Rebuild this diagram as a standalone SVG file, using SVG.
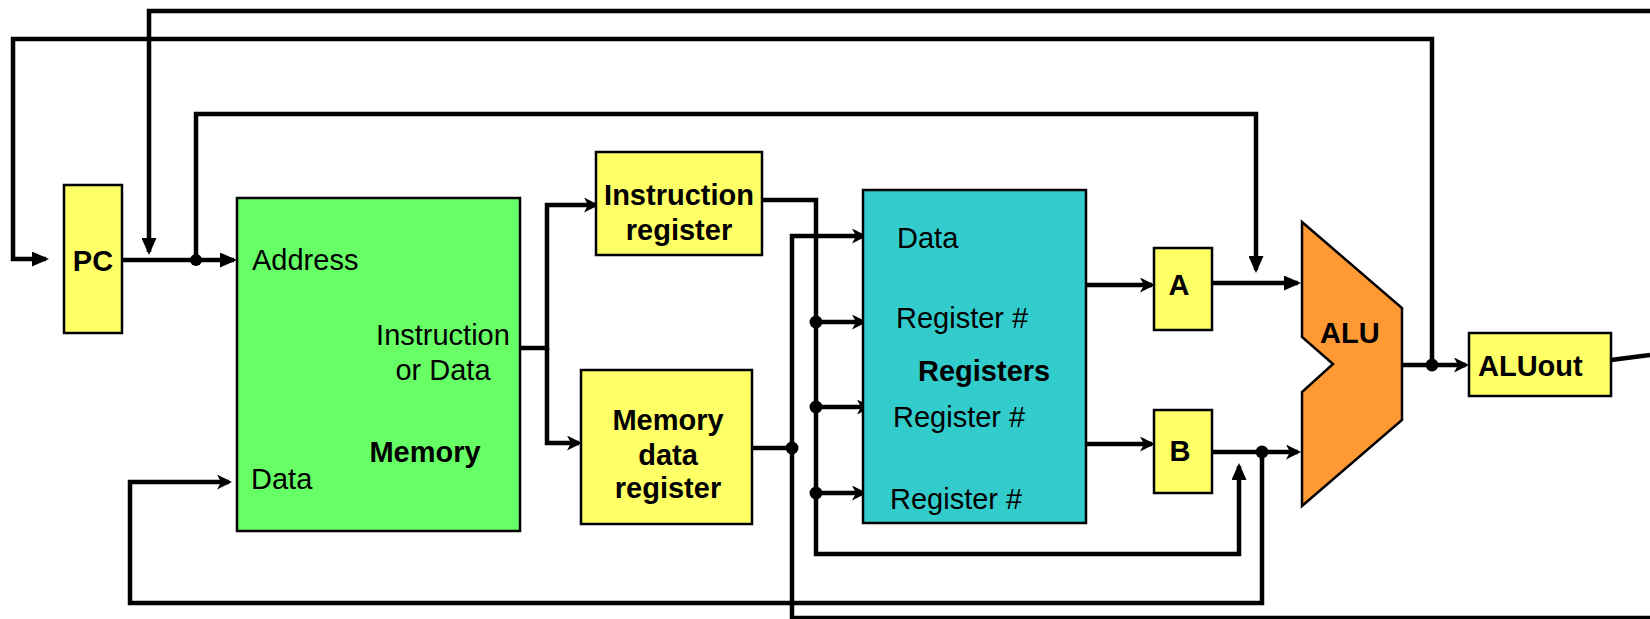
<svg xmlns="http://www.w3.org/2000/svg" width="1650" height="619" viewBox="0 0 1650 619">
  <style>
    .box { stroke: #000; stroke-width: 2.5; }
    .yellow { fill: #FFFF66; }
    .green { fill: #66FF66; }
    .teal { fill: #33CCCC; }
    .orange { fill: #FF9933; }
    .t { font-family: "Liberation Sans", Arial, sans-serif; font-size: 29px; fill: #000; }
    .b { font-family: "Liberation Sans", Arial, sans-serif; font-size: 29px; font-weight: bold; fill: #000; }
    .m { text-anchor: middle; }
    .w { fill: none; stroke: #000; stroke-width: 4.5; stroke-linejoin: miter; }
    .tri { marker-end: url(#tri); }
    .st { marker-end: url(#stealth); }
    .dot { fill: #000; }
  </style>
  <defs>
    <marker id="tri" markerUnits="userSpaceOnUse" markerWidth="17" markerHeight="15" viewBox="0 0 17 15" refX="14" refY="7.5" orient="auto">
      <path d="M0,0 L17,7.5 L0,15 z" fill="#000"/>
    </marker>
    <marker id="stealth" markerUnits="userSpaceOnUse" markerWidth="15" markerHeight="15" viewBox="0 0 15 15" refX="12" refY="7.5" orient="auto">
      <path d="M0,0 L15,7.5 L0,15 L4,7.5 z" fill="#000"/>
    </marker>
  </defs>

  <g id="connectors">
    <!-- top line into PC->Address bus -->
    <path class="w tri" d="M1650,11 H149 V252"/>
    <!-- ALUout junction back to PC -->
    <path class="w tri" d="M1432,365 V39 H13 V259 H46"/>
    <!-- PC to ALU A input -->
    <path class="w tri" d="M196,260 V114 H1256 V270"/>
    <!-- PC to Address -->
    <path class="w tri" d="M122,260 H234"/>
    <!-- B out to ALU -->
    <path class="w st" d="M1212,452 H1298"/>
    <!-- B out loop to Memory Data -->
    <path class="w st" d="M1262,452 V603 H130 V482 H229"/>
    <!-- Memory out to IR and MDR -->
    <path class="w st" d="M514,348 H547 V205 H596"/>
    <path class="w st" d="M547,348 V443 H579"/>
    <!-- IR out -->
    <path class="w tri" d="M762,200 H816 V554 H1239 V466"/>
    <path class="w st" d="M816,322 H864"/>
    <path class="w st" d="M816,407 H869"/>
    <path class="w st" d="M816,493 H864"/>
    <!-- MDR out -->
    <path class="w" d="M752,448 H792"/>
    <path class="w st" d="M1650,618 H792 V236 H864"/>
    <!-- Registers to A and B -->
    <path class="w st" d="M1086,285 H1152"/>
    <path class="w st" d="M1086,444 H1152"/>
    <!-- A to ALU -->
    <path class="w tri" d="M1212,283 H1298"/>
    <!-- ALU to ALUout -->
    <path class="w st" d="M1400,365 H1466"/>
    <!-- ALUout out -->
    <path class="w" d="M1611,360 L1650,355"/>
    <!-- junction dots -->
    <circle class="dot" cx="196" cy="260" r="6"/>
    <circle class="dot" cx="816" cy="322" r="6.5"/>
    <circle class="dot" cx="816" cy="407" r="6.5"/>
    <circle class="dot" cx="816" cy="493" r="6.5"/>
    <circle class="dot" cx="792" cy="448" r="6.5"/>
    <circle class="dot" cx="1262" cy="452" r="6.5"/>
    <circle class="dot" cx="1432" cy="365" r="6.5"/>
  </g>

  <g id="pc">
    <rect class="box yellow" x="64" y="185" width="58" height="148"/>
    <text class="b m" x="93" y="271">PC</text>
  </g>

  <g id="memory">
    <rect class="box green" x="237" y="198" width="283" height="333"/>
    <text class="t" x="252" y="270">Address</text>
    <text class="t m" x="443" y="345">Instruction</text>
    <text class="t m" x="443" y="380">or Data</text>
    <text class="b m" x="425" y="462">Memory</text>
    <text class="t" x="251" y="489">Data</text>
  </g>

  <g id="instruction-register">
    <rect class="box yellow" x="596" y="152" width="166" height="103"/>
    <text class="b m" x="679" y="205">Instruction</text>
    <text class="b m" x="679" y="240">register</text>
  </g>

  <g id="memory-data-register">
    <rect class="box yellow" x="581" y="370" width="171" height="154"/>
    <text class="b m" x="668" y="430">Memory</text>
    <text class="b m" x="668" y="465">data</text>
    <text class="b m" x="668" y="498">register</text>
  </g>

  <g id="registers">
    <rect class="box teal" x="863" y="190" width="223" height="333"/>
    <text class="t" x="897" y="248">Data</text>
    <text class="t" x="896" y="328">Register #</text>
    <text class="b" x="918" y="381">Registers</text>
    <text class="t" x="893" y="427">Register #</text>
    <text class="t" x="890" y="509">Register #</text>
  </g>

  <g id="a">
    <rect class="box yellow" x="1154" y="248" width="58" height="82"/>
    <text class="b m" x="1179" y="295">A</text>
  </g>

  <g id="b">
    <rect class="box yellow" x="1154" y="410" width="58" height="83"/>
    <text class="b m" x="1180" y="461">B</text>
  </g>

  <g id="alu">
    <polygon class="box orange" points="1302,222 1402,308 1402,420 1302,506 1302,392 1333,364 1302,337"/>
    <text class="b" x="1320" y="343">ALU</text>
  </g>

  <g id="aluout">
    <rect class="box yellow" x="1469" y="333" width="142" height="63"/>
    <text class="b" x="1478" y="376">ALUout</text>
  </g>
</svg>
